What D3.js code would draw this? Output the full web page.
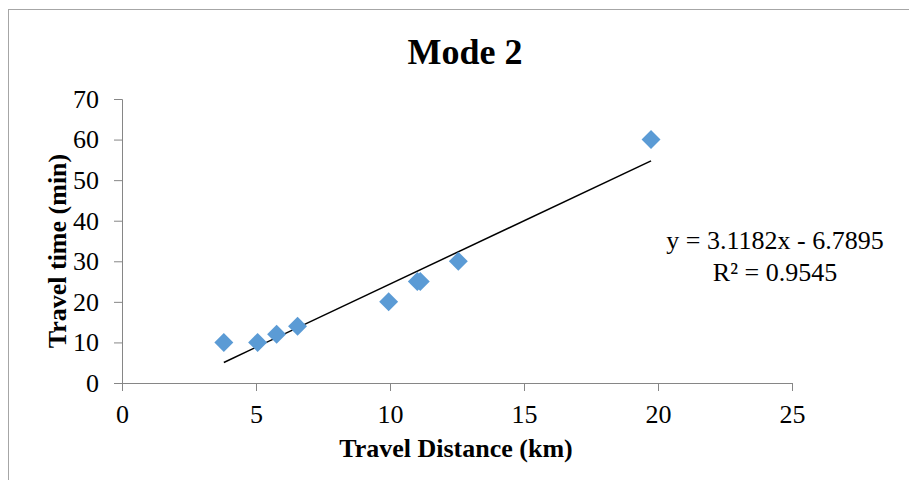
<!DOCTYPE html>
<html>
<head>
<meta charset="utf-8">
<script src="https://cdn.jsdelivr.net/npm/d3@7"></script>
<style>
  body { margin: 0; background: #fff; }
  svg text { font-family: "Liberation Serif", "Times New Roman", Times, serif; }
</style>
</head>
<body>
<div id="chart"></div>
<script>
// Data
var distance = [3.8, 5.06, 5.77, 6.55, 9.95, 11.02, 11.13, 12.55, 19.74];
var travelTime = [10, 10, 12, 14, 20, 25, 25, 30, 60];
var xTicks = [0, 5, 10, 15, 20, 25];
var yTicks = [0, 10, 20, 30, 40, 50, 60, 70];
var trendSlope = 3.1182;
var trendIntercept = -6.7895;
var rSquared = 0.9545;

var serif = "'Liberation Serif', 'Times New Roman', Times, serif";

var svgWidth = 909;
var svgHeight = 480;

var chartMargin = { top: 99, right: 117, bottom: 97, left: 122 };
var chartWidth = svgWidth - chartMargin.left - chartMargin.right;
var chartHeight = svgHeight - chartMargin.top - chartMargin.bottom;

var svg = d3.select("#chart")
    .append("svg")
    .attr("width", svgWidth)
    .attr("height", svgHeight)
    .attr("font-family", serif);

// outer chart frame (right/bottom fall outside the picture)
svg.append("rect")
    .attr("x", 8.5)
    .attr("y", 9.5)
    .attr("width", svgWidth + 20)
    .attr("height", svgHeight + 20)
    .attr("fill", "none")
    .attr("stroke", "#a6a6a6")
    .attr("stroke-width", 1);

var chartGroup = svg.append("g")
    .attr("transform", `translate(${chartMargin.left}, ${chartMargin.top})`);

var xScale = d3.scaleLinear().domain([0, 25]).range([0, chartWidth]);
var yScale = d3.scaleLinear().domain([0, 70]).range([chartHeight, 0]);

var bottomAxis = d3.axisBottom(xScale).tickValues(xTicks).tickSize(8).tickPadding(14);
var leftAxis = d3.axisLeft(yScale).tickValues(yTicks).tickSize(8).tickPadding(15);

var xAxis = chartGroup.append("g")
    .attr("transform", `translate(0, ${chartHeight})`)
    .call(bottomAxis);

var yAxis = chartGroup.append("g")
    .call(leftAxis);

[xAxis, yAxis].forEach(function(ax) {
    ax.attr("font-family", serif).attr("font-size", 26);
    ax.selectAll("path, line").attr("stroke", "#868686").attr("stroke-width", 1);
    ax.selectAll("text")
        .attr("fill", "#000")
        .attr("font-weight", "normal");
});

// trendline from the fitted equation, over the data range
var xMin = d3.min(distance), xMax = d3.max(distance);
chartGroup.append("line")
    .attr("x1", xScale(xMin))
    .attr("y1", yScale(trendSlope * xMin + trendIntercept))
    .attr("x2", xScale(xMax))
    .attr("y2", yScale(trendSlope * xMax + trendIntercept))
    .attr("stroke", "#000")
    .attr("stroke-width", 1.5);

// diamond markers
var diamond = d3.symbol().type(d3.symbolSquare).size(180);
chartGroup.selectAll(".pt")
    .data(distance)
    .enter()
    .append("path")
    .attr("class", "pt")
    .attr("d", diamond)
    .attr("transform", (d, i) => `translate(${xScale(d)}, ${yScale(travelTime[i])}) rotate(45)`)
    .attr("fill", "#5b9bd5");

// title
svg.append("text")
    .attr("x", 465)
    .attr("y", 64)
    .attr("text-anchor", "middle")
    .style("font-size", "36px")
    .style("font-weight", "bold")
    .text("Mode 2");

// axis titles
svg.append("text")
    .attr("x", chartMargin.left + chartWidth / 2 - 1)
    .attr("y", 457)
    .attr("text-anchor", "middle")
    .style("font-size", "26px")
    .style("font-weight", "bold")
    .text("Travel Distance (km)");

svg.append("text")
    .attr("transform", "translate(66, 251) rotate(-90)")
    .attr("text-anchor", "middle")
    .style("font-size", "26px")
    .style("font-weight", "bold")
    .text("Travel time (min)");

// equation label
var eq = svg.append("text")
    .attr("x", 775)
    .attr("y", 249)
    .attr("text-anchor", "middle")
    .style("font-size", "26px")
    .style("font-weight", "normal");
eq.append("tspan")
    .attr("x", 775)
    .text(`y = ${trendSlope}x - ${Math.abs(trendIntercept)}`);
eq.append("tspan")
    .attr("x", 775)
    .attr("dy", 32)
    .text(`R² = ${rSquared}`);
</script>
</body>
</html>
